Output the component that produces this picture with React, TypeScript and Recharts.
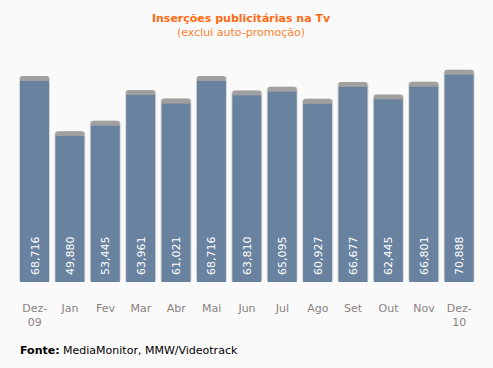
import { BarChart, Bar, XAxis, YAxis, LabelList } from "recharts";

const months = ["Dez-|09", "Jan", "Fev", "Mar", "Abr", "Mai", "Jun", "Jul", "Ago", "Set", "Out", "Nov", "Dez-|10"];
const insercoes = [68716, 49880, 53445, 63961, 61021, 68716, 63810, 65095, 60927, 66677, 62445, 66801, 70888];

const chartData = months.map((m, i) => ({ month: m, value: insercoes[i] }));

const FONT = "'DejaVu Sans', Verdana, sans-serif";

// bar with grey cap on top and a soft light edge
function CappedBar(props: any) {
  const { x, y, width, height } = props;
  return (
    <g>
      <rect x={x - 1} y={y - 5} width={width + 2} height={height + 5} rx={3} fill="#d6d6d6" />
      <rect x={x} y={y - 5} width={width} height={8} rx={3} fill="#a0a0a0" />
      <rect x={x} y={y} width={width} height={height} fill="#68829f" />
    </g>
  );
}

function MonthTick({ x, y, payload }: any) {
  const parts = String(payload.value).split("|");
  return (
    <text x={x} y={y + 22} textAnchor="middle" fill="#8a8282" fontSize={11} fontFamily={FONT}>
      {parts.map((p, i) => (
        <tspan key={i} x={x} dy={i === 0 ? 0 : 14}>{p}</tspan>
      ))}
    </text>
  );
}

function ValueLabel({ x, y, width, height, value }: any) {
  const cx = x + width / 2;
  const by = y + height - 7;
  return (
    <text
      x={cx}
      y={by}
      transform={`rotate(-90 ${cx} ${by})`}
      dy={4}
      fill="#ffffff"
      fontSize={11}
      fontFamily={FONT}
    >
      {value.toLocaleString("en-US")}
    </text>
  );
}

export default function App() {
  return (
    <div style={{ position: "absolute", left: 0, top: 0, width: 493, height: 368, background: "#fafafa", fontFamily: FONT }}>
      <div style={{ position: "absolute", top: 12, width: 482, textAlign: "center", color: "#ff6a13", fontSize: 11, lineHeight: "14px" }}>
        <div style={{ fontWeight: "bold" }}>Inserções publicitárias na Tv</div>
        <div style={{ color: "#ff8030" }}>(exclui auto-promoção)</div>
      </div>
      <BarChart
        width={493}
        height={368}
        data={chartData}
        margin={{ top: 70, right: 16, left: 17, bottom: 0 }}
        barCategoryGap={3}
      >
        <XAxis dataKey="month" axisLine={false} tickLine={false} tick={<MonthTick />} interval={0} height={86} />
        <YAxis hide domain={[0, 72500]} />
        <Bar dataKey="value" shape={<CappedBar />} isAnimationActive={false}>
          <LabelList dataKey="value" content={<ValueLabel />} />
        </Bar>
      </BarChart>
      <div style={{ position: "absolute", left: 20, top: 344, fontSize: 11, color: "#000" }}>
        <b>Fonte:</b> MediaMonitor, MMW/Videotrack
      </div>
    </div>
  );
}
